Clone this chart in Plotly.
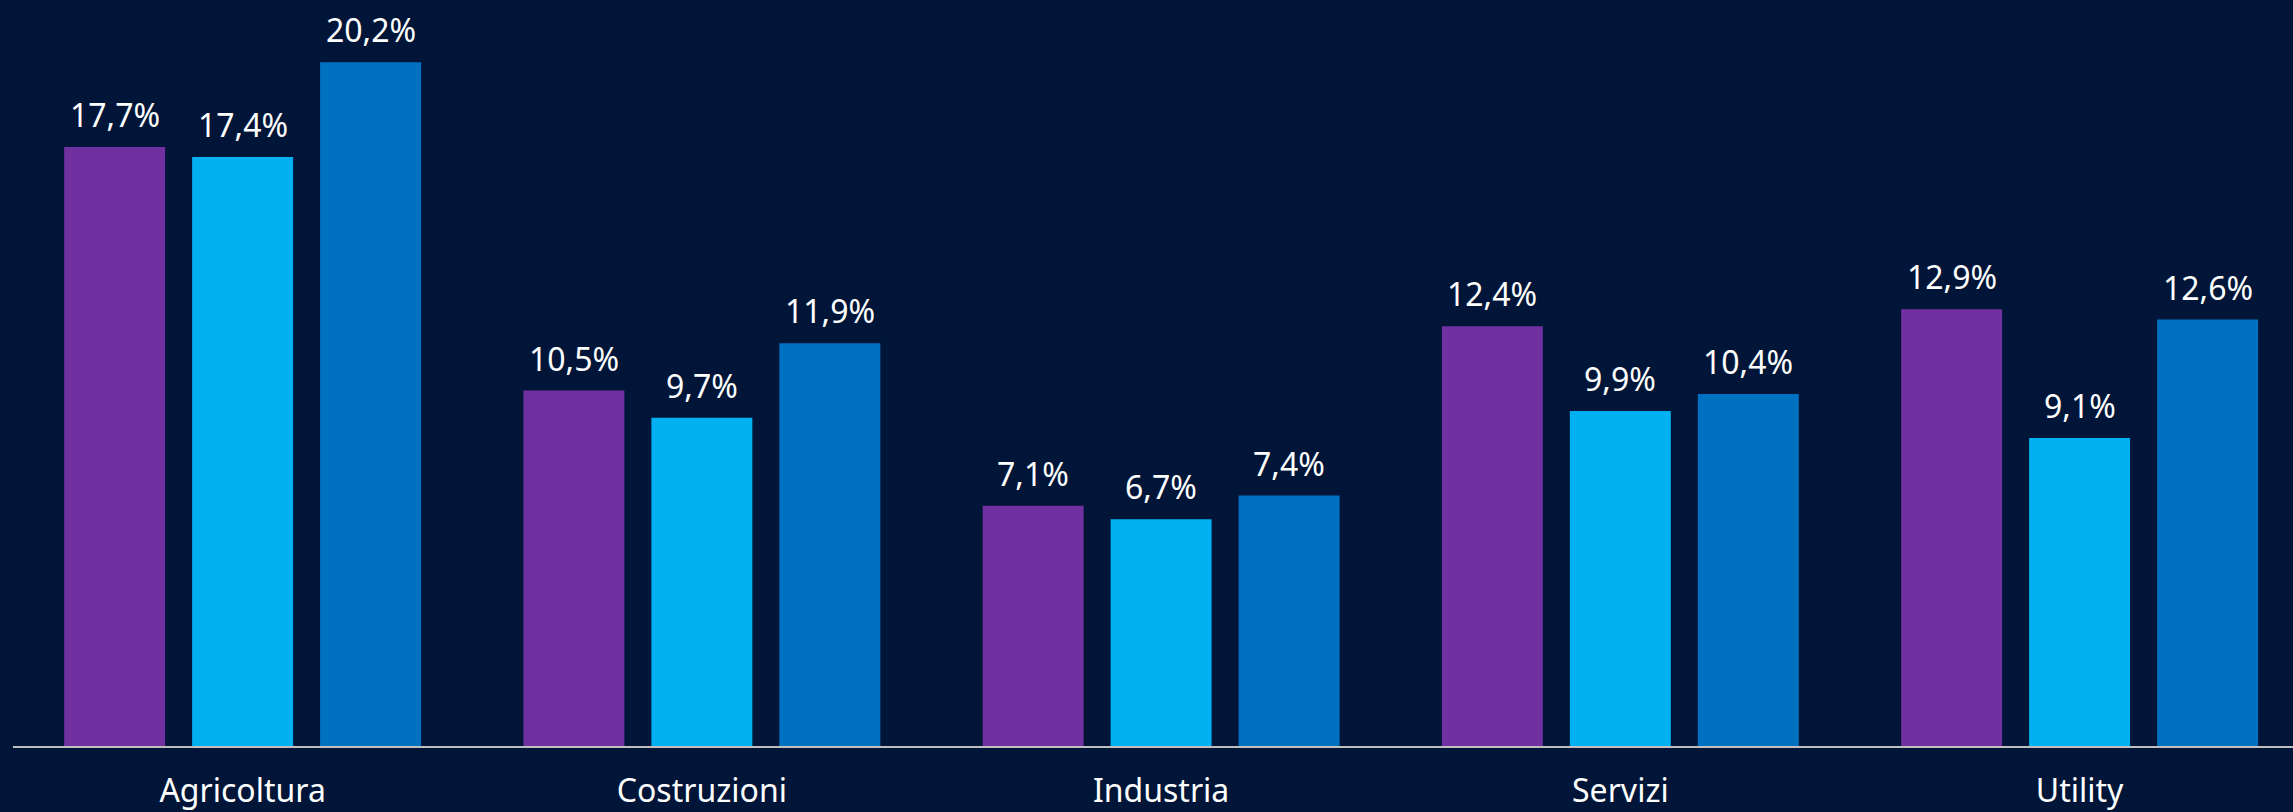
import plotly.graph_objects as go

categories = ["Agricoltura", "Costruzioni", "Industria", "Servizi", "Utility"]
series_a = [17.7, 10.5, 7.1, 12.4, 12.9]
series_b = [17.4, 9.7, 6.7, 9.9, 9.1]
series_c = [20.2, 11.9, 7.4, 10.4, 12.6]
series_names = ["Serie 1", "Serie 2", "Serie 3"]

colors = ["#7030A0", "#00B0F0", "#0070C0"]
bg = "#001538"
FONT = "Noto Sans"

fig = go.Figure()
all_series = [series_a, series_b, series_c]
for name, vals, col in zip(series_names, all_series, colors):
    fig.add_trace(go.Bar(
        x=categories, y=vals, name=name,
        marker=dict(color=col, line=dict(width=0)),
        hoverinfo="skip",
    ))

slot_px = 128
annotations = []
for i, vals in enumerate(all_series):
    for cat, v in zip(categories, vals):
        annotations.append(dict(
            x=cat, y=v, xref="x", yref="y",
            text=f"{v:.1f}%".replace(".", ","),
            showarrow=False, xanchor="center", yanchor="bottom",
            xshift=(i - 1) * slot_px, yshift=9,
            font=dict(family=FONT, size=32, color="white"),
        ))

fig.update_layout(
    width=2293, height=812,
    margin=dict(l=13, r=0, t=0, b=66),
    paper_bgcolor=bg, plot_bgcolor=bg,
    barmode="group", bargap=0.164, bargroupgap=0.211,
    showlegend=False,
    annotations=annotations,
    xaxis=dict(
        range=[-0.5, 4.4647], showgrid=False, zeroline=False,
        showline=True, linecolor="#BFBFBF", linewidth=2,
        ticks="", ticklabelstandoff=16,
        tickfont=dict(family=FONT, size=32, color="white"),
        fixedrange=True,
    ),
    yaxis=dict(
        range=[0, 22.04], visible=False, showgrid=False, zeroline=False,
        fixedrange=True,
    ),
)

fig.write_html("out.html", config={"displayModeBar": False})
